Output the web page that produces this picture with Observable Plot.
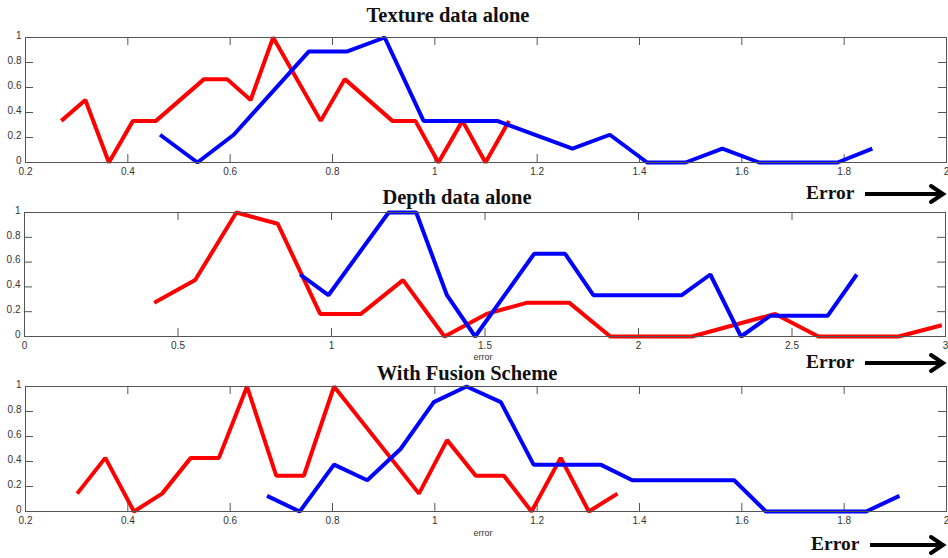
<!DOCTYPE html>
<html>
<head>
<meta charset="utf-8">
<script src="https://cdn.jsdelivr.net/npm/d3@7"></script>
<script src="https://cdn.jsdelivr.net/npm/@observablehq/plot@0.6"></script>
<style>
  html, body { margin: 0; padding: 0; background: #fff; }
  #wrap { position: relative; width: 948px; height: 558px; overflow: hidden; background: #fff; }
  .panel { position: absolute; left: 0; }
  .title { position: absolute; font-family: "Liberation Serif", "DejaVu Serif", serif; font-weight: bold; font-size: 20.5px; color: #111; white-space: nowrap; transform: translate(-50%, -50%); }
  .errlab { position: absolute; font-family: "Liberation Serif", serif; font-weight: bold; font-size: 19.5px; color: #111; white-space: nowrap; transform: translateY(-50%); }
  .axlab { position: absolute; font-family: "Liberation Sans", Arial, sans-serif; font-size: 9px; color: #333; transform: translate(-50%, -50%); }
  svg.arrows { position: absolute; left: 0; top: 0; }
</style>
</head>
<body>
<div id="wrap"></div>
<script>
// ---- Data ----
const titles = ["Texture data alone", "Depth data alone", "With Fusion Scheme"];

// Texture data alone
const texRedX  = [0.270, 0.317, 0.363, 0.410, 0.455, 0.549, 0.594, 0.640, 0.684, 0.777, 0.824, 0.917, 0.962, 1.007, 1.054, 1.099, 1.145];
const texRedY  = [0.333, 0.5, 0, 0.333, 0.333, 0.667, 0.667, 0.5, 1, 0.333, 0.667, 0.333, 0.333, 0, 0.333, 0, 0.333];
const texBlueX = [0.463, 0.536, 0.607, 0.754, 0.829, 0.902, 0.978, 1.122, 1.269, 1.342, 1.415, 1.490, 1.562, 1.634, 1.787, 1.855];
const texBlueY = [0.222, 0, 0.222, 0.889, 0.889, 1, 0.333, 0.333, 0.111, 0.222, 0, 0, 0.111, 0, 0, 0.111];

// Depth data alone
const depRedX  = [0.4225, 0.556, 0.690, 0.825, 0.963, 1.096, 1.233, 1.368, 1.505, 1.638, 1.774, 1.908, 2.174, 2.445, 2.586, 2.847, 2.988];
const depRedY  = [0.273, 0.455, 1, 0.909, 0.182, 0.182, 0.455, 0, 0.182, 0.273, 0.273, 0, 0, 0.182, 0, 0, 0.091];
const depBlueX = [0.898, 0.990, 1.186, 1.276, 1.376, 1.468, 1.660, 1.761, 1.853, 2.141, 2.234, 2.334, 2.429, 2.616, 2.711];
const depBlueY = [0.5, 0.333, 1, 1, 0.333, 0, 0.667, 0.667, 0.333, 0.333, 0.5, 0, 0.167, 0.167, 0.5];

// With Fusion Scheme
const fusRedX  = [0.301, 0.356, 0.412, 0.467, 0.523, 0.578, 0.633, 0.690, 0.744, 0.803, 0.969, 1.024, 1.080, 1.135, 1.189, 1.246, 1.301, 1.357];
const fusRedY  = [0.143, 0.429, 0, 0.143, 0.429, 0.429, 1, 0.286, 0.286, 1, 0.143, 0.571, 0.286, 0.286, 0, 0.429, 0, 0.143];
const fusBlueX = [0.672, 0.736, 0.803, 0.868, 0.933, 0.998, 1.062, 1.129, 1.193, 1.324, 1.386, 1.585, 1.647, 1.843, 1.908];
const fusBlueY = [0.125, 0, 0.375, 0.25, 0.5, 0.875, 1, 0.875, 0.375, 0.375, 0.25, 0.25, 0, 0, 0.125];

const xTicksA = [0.2, 0.4, 0.6, 0.8, 1, 1.2, 1.4, 1.6, 1.8, 2];
const xTicksB = [0, 0.5, 1, 1.5, 2, 2.5, 3];
const yTicks  = [0, 0.2, 0.4, 0.6, 0.8, 1];

// ---- Layout ----
const wrap = document.getElementById("wrap");
const zip = (xs, ys) => xs.map((x, i) => ({x, y: ys[i]}));

function panel({top, height, mt, mb, ml, mr, xDomain, xTicks, red, blue}) {
  const width = 948;
  const innerH = height - mt - mb;
  const innerW = width - ml - mr;
  const tick = 8;
  const chart = Plot.plot({
    width, height,
    marginTop: mt, marginBottom: mb, marginLeft: ml, marginRight: mr,
    style: {fontFamily: "'Liberation Sans', Arial, sans-serif", fontSize: "10px", color: "#333", background: "transparent", overflow: "visible"},
    x: {domain: xDomain},
    y: {domain: [0, 1]},
    marks: [
      Plot.tickX(xTicks, {x: d => d, insetTop: innerH - tick, stroke: "#555", strokeWidth: 1}),
      Plot.tickX(xTicks, {x: d => d, insetBottom: innerH - tick, stroke: "#555", strokeWidth: 1}),
      Plot.tickY(yTicks, {y: d => d, insetRight: innerW - tick, stroke: "#555", strokeWidth: 1}),
      Plot.tickY(yTicks, {y: d => d, insetLeft: innerW - tick, stroke: "#555", strokeWidth: 1}),
      Plot.lineY(zip(red.x, red.y), {x: "x", y: "y", stroke: "#ff0000", strokeWidth: 4, strokeLinejoin: "miter", strokeLinecap: "butt"}),
      Plot.lineY(zip(blue.x, blue.y), {x: "x", y: "y", stroke: "#0000ff", strokeWidth: 4, strokeLinejoin: "miter", strokeLinecap: "butt"}),
      Plot.frame({stroke: "#555", strokeWidth: 1}),
      Plot.axisX({ticks: xTicks, tickSize: 0, tickPadding: 5, label: null, tickFormat: d => String(d), fill: "#333"}),
      Plot.axisY({ticks: yTicks, tickSize: 0, tickPadding: 4, label: null, tickFormat: d => String(d), fill: "#333", dy: -2})
    ]
  });
  chart.classList.add("panel");
  chart.style.top = top + "px";
  wrap.appendChild(chart);
}

panel({top: 0, height: 185, mt: 37, mb: 23, ml: 25, mr: 2, xDomain: [0.2, 2], xTicks: xTicksA,
       red: {x: texRedX, y: texRedY}, blue: {x: texBlueX, y: texBlueY}});
panel({top: 190, height: 170, mt: 22, mb: 24, ml: 24, mr: 3, xDomain: [0, 3], xTicks: xTicksB,
       red: {x: depRedX, y: depRedY}, blue: {x: depBlueX, y: depBlueY}});
panel({top: 374, height: 160, mt: 12, mb: 23, ml: 25, mr: 2, xDomain: [0.2, 2], xTicks: xTicksA,
       red: {x: fusRedX, y: fusRedY}, blue: {x: fusBlueX, y: fusBlueY}});

// Titles
const titlePos = [[448, 15], [457, 197], [467, 373]];
titles.forEach((t, i) => {
  const d = document.createElement("div");
  d.className = "title";
  d.textContent = t;
  d.style.left = titlePos[i][0] + "px";
  d.style.top = titlePos[i][1] + "px";
  wrap.appendChild(d);
});

// small "error" axis labels
[[483, 357], [483, 533]].forEach(([x, y]) => {
  const d = document.createElement("div");
  d.className = "axlab";
  d.textContent = "error";
  d.style.left = x + "px";
  d.style.top = y + "px";
  wrap.appendChild(d);
});

// "Error →" annotations
const errPos = [[806, 193], [806, 362], [811, 544]];
const ns = "http://www.w3.org/2000/svg";
const asvg = document.createElementNS(ns, "svg");
asvg.setAttribute("class", "arrows");
asvg.setAttribute("width", 948);
asvg.setAttribute("height", 558);
errPos.forEach(([x, y]) => {
  const d = document.createElement("div");
  d.className = "errlab";
  d.textContent = "Error";
  d.style.left = x + "px";
  d.style.top = y + "px";
  wrap.appendChild(d);
  const x0 = x + 59, x1 = 943;
  const line = document.createElementNS(ns, "line");
  line.setAttribute("x1", x0); line.setAttribute("x2", x1 - 2);
  line.setAttribute("y1", y + 1); line.setAttribute("y2", y + 1);
  line.setAttribute("stroke", "#000"); line.setAttribute("stroke-width", 4);
  asvg.appendChild(line);
  const head = document.createElementNS(ns, "polyline");
  head.setAttribute("points", `${x1 - 12},${y - 7} ${x1},${y + 1} ${x1 - 12},${y + 9}`);
  head.setAttribute("fill", "none");
  head.setAttribute("stroke", "#000"); head.setAttribute("stroke-width", 4);
  head.setAttribute("stroke-linecap", "round");
  asvg.appendChild(head);
});
wrap.appendChild(asvg);
</script>
</body>
</html>
